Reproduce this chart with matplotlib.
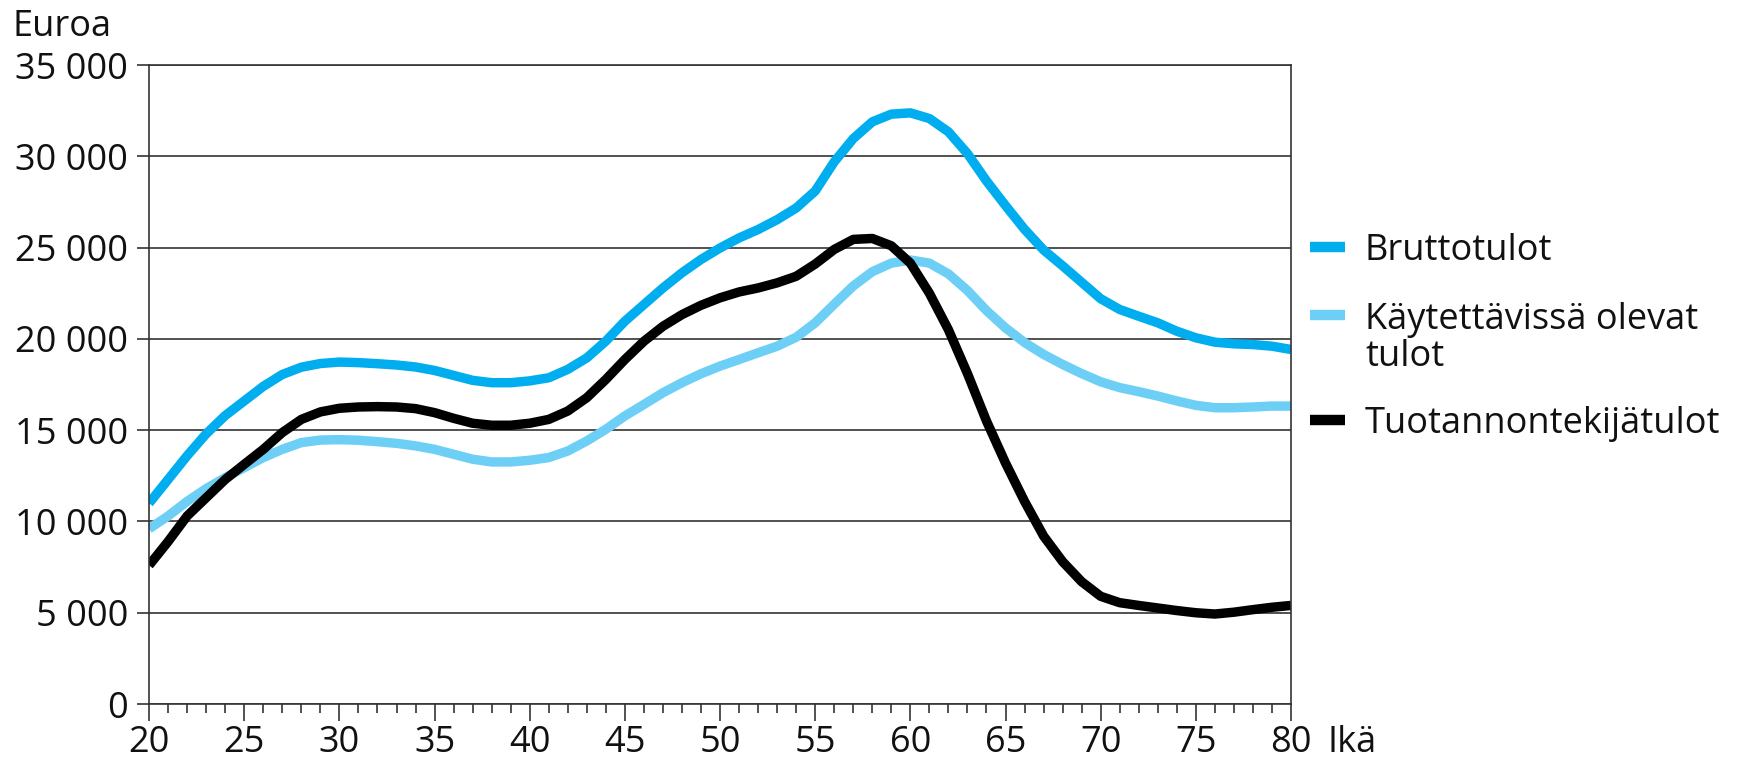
import matplotlib.pyplot as plt
from matplotlib.lines import Line2D
from matplotlib.ticker import MultipleLocator

plt.rcParams['font.family'] = ['Open Sans', 'DejaVu Sans']

# ------------------------- #
# Data
# ------------------------- #
ages = list(range(20, 81))

bruttotulot = [
    11000, 12300, 13600, 14800, 15800, 16600, 17400, 18050, 18450, 18650,
    18730, 18700, 18640, 18570, 18460, 18270, 18000, 17730, 17600, 17600,
    17700, 17870, 18330, 18960, 19880, 20970, 21880, 22790, 23620, 24350,
    24980, 25530, 25990, 26530, 27170, 28100, 29700, 30970, 31890, 32310,
    32380, 32070, 31340, 30150, 28650, 27300, 26000, 24870, 24000, 23100,
    22200, 21610, 21240, 20880, 20420, 20060, 19820, 19730, 19690, 19600,
    19420,
]

kaytettavissa = [
    9600, 10300, 11100, 11800, 12400, 12950, 13500, 13950, 14320, 14460,
    14480, 14450, 14370, 14280, 14140, 13950, 13680, 13410, 13260, 13260,
    13350, 13500, 13860, 14410, 15050, 15780, 16410, 17050, 17600, 18090,
    18510, 18870, 19240, 19600, 20090, 20880, 21900, 22900, 23680, 24150,
    24320, 24150, 23560, 22650, 21550, 20600, 19800, 19150, 18600, 18100,
    17650, 17330, 17110, 16870, 16600, 16360, 16230, 16230, 16270, 16320,
    16320,
]

tuotannontekija = [
    7600, 8900, 10300, 11300, 12300, 13130, 13950, 14870, 15590, 16000,
    16200, 16270, 16290, 16270, 16180, 15960, 15650, 15380, 15270, 15270,
    15380, 15590, 16050, 16780, 17780, 18870, 19870, 20690, 21330, 21840,
    22250, 22570, 22790, 23070, 23430, 24100, 24900, 25450, 25500, 25100,
    24150, 22500, 20500, 18100, 15500, 13200, 11100, 9200, 7800, 6700,
    5900, 5550, 5400, 5260, 5120, 5000, 4930, 5030, 5170, 5300,
    5400,
]

series_labels = ["Bruttotulot", "Käytettävissä olevat\ntulot", "Tuotannontekijätulot"]
series_colors = ["#00AEEF", "#6DCFF6", "#000000"]

y_ticks = [0, 5000, 10000, 15000, 20000, 25000, 30000, 35000]
y_tick_labels = ["0", "5 000", "10 000", "15 000", "20 000", "25 000", "30 000", "35 000"]
x_ticks = [20, 25, 30, 35, 40, 45, 50, 55, 60, 65, 70, 75, 80]

# ------------------------- #
# Figure
# ------------------------- #
fig = plt.figure(figsize=(17.56, 7.66), dpi=100)
ax = fig.add_axes([0.0849, 0.0809, 0.6503, 0.8342])

grid_color = "#333333"
text_color = "#111111"
ax.set_axisbelow(True)
ax.yaxis.grid(True, color=grid_color, linewidth=1.2)

for values, color in zip([bruttotulot, kaytettavissa, tuotannontekija], series_colors):
    ax.plot(ages, values, color=color, linewidth=6.8,
            solid_capstyle="butt", solid_joinstyle="round")

ax.set_xlim(20, 80)
ax.set_ylim(0, 35000)
ax.set_xticks(x_ticks)
ax.xaxis.set_minor_locator(MultipleLocator(1))
ax.set_yticks(y_ticks)
ax.set_yticklabels(y_tick_labels)

for side in ["left", "right", "top", "bottom"]:
    ax.spines[side].set_color(grid_color)
    ax.spines[side].set_linewidth(1.2)

ax.tick_params(axis="both", which="both", direction="out", color=grid_color,
               width=1.2, labelsize=26, labelcolor=text_color)
ax.tick_params(axis="y", which="major", length=9, pad=6)
ax.tick_params(axis="x", which="major", length=12, pad=3)
ax.tick_params(axis="x", which="minor", length=6.5)

# Axis titles
fig.text(13 / 1756, 1 - 36 / 766, "Euroa", fontsize=26, color=text_color,
         va="baseline", ha="left")
ax.annotate("Ikä", xy=(1, 0), xycoords="axes fraction", xytext=(26, -15),
            textcoords="offset points", fontsize=26, color=text_color,
            ha="left", va="top")

# Legend drawn by hand, so the handle sits on the first text line
legend_y = [247, 315, 420]
for label, color, ypix in zip(series_labels, series_colors, legend_y):
    yf = 1 - ypix / 766
    fig.add_artist(Line2D([1310 / 1756, 1345 / 1756], [yf, yf], color=color,
                          linewidth=7.5, solid_capstyle="butt"))
    first_line, *rest = label.split("\n")
    fig.text(1365 / 1756, yf, first_line, fontsize=26, color=text_color,
             ha="left", va="center_baseline")
    for i, extra in enumerate(rest, start=1):
        fig.text(1365 / 1756, 1 - (ypix + 38 * i) / 766, extra, fontsize=26,
                 color=text_color, ha="left", va="center_baseline")

fig.savefig("out.png", dpi=100)
